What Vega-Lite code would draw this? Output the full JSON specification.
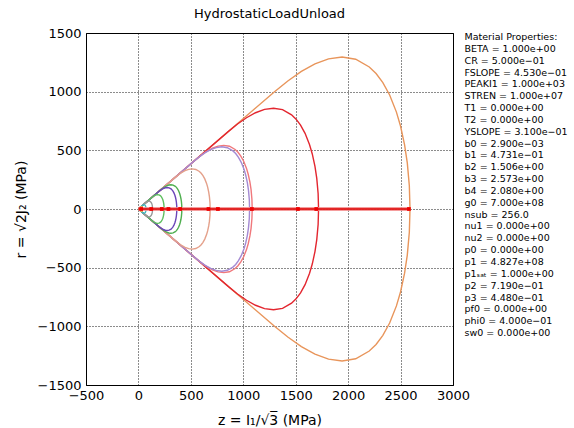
{
  "$schema": "https://vega.github.io/schema/vega-lite/v6.json",
  "width": 367,
  "height": 352,
  "autosize": {"type": "none"},
  "padding": {"left": 86, "top": 33, "right": 121, "bottom": 43},
  "background": "white",
  "config": {
    "view": {"stroke": "black", "strokeWidth": 1},
    "font": "DejaVu Sans",
    "axis": {
      "labelFont": "DejaVu Sans", "labelFontSize": 13, "labelColor": "black",
      "titleFont": "DejaVu Sans", "titleFontSize": 14, "titleFontWeight": "normal", "titleColor": "black",
      "grid": true, "gridColor": "black", "gridDash": [1, 2], "gridOpacity": 0.9, "gridWidth": 1,
      "ticks": false, "domain": false, "labelOverlap": false, "labelFlush": false, "format": "d"
    }
  },
  "title": {"text": "HydrostaticLoadUnload", "font": "DejaVu Sans", "fontSize": 13, "fontWeight": "normal", "color": "black", "offset": 6, "frame": "group"},
  "datasets": {
    "curves": [
      {"c":"A","z":0,"r":0,"rn":0},{"c":"A","z":1295,"r":997.2,"rn":-997.2},{"c":"A","z":1424.5,"r":1091.4,"rn":-1091.4},{"c":"A","z":1554,"r":1172.5,"rn":-1172.5},{"c":"A","z":1683.5,"r":1236.6,"rn":-1236.6},{"c":"A","z":1813,"r":1279.5,"rn":-1279.5},{"c":"A","z":1942.5,"r":1295.3,"rn":-1295.3},{"c":"A","z":2072,"r":1276.4,"rn":-1276.4},{"c":"A","z":2201.5,"r":1210.6,"rn":-1210.6},{"c":"A","z":2266.3,"r":1154.2,"rn":-1154.2},{"c":"A","z":2331,"r":1076.9,"rn":-1076.9},{"c":"A","z":2395.8,"r":971.8,"rn":-971.8},{"c":"A","z":2460.5,"r":825.8,"rn":-825.8},{"c":"A","z":2499.4,"r":707.3,"rn":-707.3},{"c":"A","z":2538.2,"r":547.3,"rn":-547.3},{"c":"A","z":2564.1,"r":392.9,"rn":-392.9},{"c":"A","z":2583.5,"r":198.7,"rn":-198.7},{"c":"A","z":2590,"r":0,"rn":0},
      {"c":"B","z":0,"r":0,"rn":0},{"c":"B","z":859,"r":661.4,"rn":-661.4},{"c":"B","z":944.9,"r":724,"rn":-724},{"c":"B","z":1030.8,"r":777.7,"rn":-777.7},{"c":"B","z":1116.7,"r":820.3,"rn":-820.3},{"c":"B","z":1202.6,"r":848.7,"rn":-848.7},{"c":"B","z":1288.5,"r":859.2,"rn":-859.2},{"c":"B","z":1374.4,"r":846.6,"rn":-846.6},{"c":"B","z":1460.3,"r":803,"rn":-803},{"c":"B","z":1503.3,"r":765.6,"rn":-765.6},{"c":"B","z":1546.2,"r":714.3,"rn":-714.3},{"c":"B","z":1589.2,"r":644.6,"rn":-644.6},{"c":"B","z":1632.1,"r":547.8,"rn":-547.8},{"c":"B","z":1657.9,"r":469.2,"rn":-469.2},{"c":"B","z":1683.6,"r":363,"rn":-363},{"c":"B","z":1700.8,"r":260.6,"rn":-260.6},{"c":"B","z":1713.7,"r":131.8,"rn":-131.8},{"c":"B","z":1718,"r":0,"rn":0},
      {"c":"C","z":0,"r":0,"rn":0},{"c":"C","z":542.5,"r":417.7,"rn":-417.7},{"c":"C","z":596.8,"r":457.2,"rn":-457.2},{"c":"C","z":651,"r":491.2,"rn":-491.2},{"c":"C","z":705.3,"r":518,"rn":-518},{"c":"C","z":759.5,"r":536,"rn":-536},{"c":"C","z":813.8,"r":542.6,"rn":-542.6},{"c":"C","z":868,"r":534.7,"rn":-534.7},{"c":"C","z":922.3,"r":507.1,"rn":-507.1},{"c":"C","z":949.4,"r":483.5,"rn":-483.5},{"c":"C","z":976.5,"r":451.1,"rn":-451.1},{"c":"C","z":1003.6,"r":407.1,"rn":-407.1},{"c":"C","z":1030.8,"r":346,"rn":-346},{"c":"C","z":1047,"r":296.3,"rn":-296.3},{"c":"C","z":1063.3,"r":229.3,"rn":-229.3},{"c":"C","z":1074.2,"r":164.6,"rn":-164.6},{"c":"C","z":1082.3,"r":83.2,"rn":-83.2},{"c":"C","z":1085,"r":0,"rn":0},
      {"c":"D","z":0,"r":0,"rn":0},{"c":"D","z":530,"r":408.1,"rn":-408.1},{"c":"D","z":583,"r":446.7,"rn":-446.7},{"c":"D","z":636,"r":479.9,"rn":-479.9},{"c":"D","z":689,"r":506.1,"rn":-506.1},{"c":"D","z":742,"r":523.6,"rn":-523.6},{"c":"D","z":795,"r":530.1,"rn":-530.1},{"c":"D","z":848,"r":522.4,"rn":-522.4},{"c":"D","z":901,"r":495.4,"rn":-495.4},{"c":"D","z":927.5,"r":472.4,"rn":-472.4},{"c":"D","z":954,"r":440.7,"rn":-440.7},{"c":"D","z":980.5,"r":397.7,"rn":-397.7},{"c":"D","z":1007,"r":338,"rn":-338},{"c":"D","z":1022.9,"r":289.5,"rn":-289.5},{"c":"D","z":1038.8,"r":224,"rn":-224},{"c":"D","z":1049.4,"r":160.8,"rn":-160.8},{"c":"D","z":1057.4,"r":81.3,"rn":-81.3},{"c":"D","z":1060,"r":0,"rn":0},
      {"c":"E","z":0,"r":0,"rn":0},{"c":"E","z":342,"r":263.3,"rn":-263.3},{"c":"E","z":376.2,"r":288.2,"rn":-288.2},{"c":"E","z":410.4,"r":309.6,"rn":-309.6},{"c":"E","z":444.6,"r":326.6,"rn":-326.6},{"c":"E","z":478.8,"r":337.9,"rn":-337.9},{"c":"E","z":513,"r":342.1,"rn":-342.1},{"c":"E","z":547.2,"r":337.1,"rn":-337.1},{"c":"E","z":581.4,"r":319.7,"rn":-319.7},{"c":"E","z":598.5,"r":304.8,"rn":-304.8},{"c":"E","z":615.6,"r":284.4,"rn":-284.4},{"c":"E","z":632.7,"r":256.6,"rn":-256.6},{"c":"E","z":649.8,"r":218.1,"rn":-218.1},{"c":"E","z":660.1,"r":186.8,"rn":-186.8},{"c":"E","z":670.3,"r":144.5,"rn":-144.5},{"c":"E","z":677.2,"r":103.8,"rn":-103.8},{"c":"E","z":682.3,"r":52.5,"rn":-52.5},{"c":"E","z":684,"r":0,"rn":0},
      {"c":"F","z":0,"r":0,"rn":0},{"c":"F","z":207,"r":159.4,"rn":-159.4},{"c":"F","z":227.7,"r":174.5,"rn":-174.5},{"c":"F","z":248.4,"r":187.4,"rn":-187.4},{"c":"F","z":269.1,"r":197.7,"rn":-197.7},{"c":"F","z":289.8,"r":204.5,"rn":-204.5},{"c":"F","z":310.5,"r":207,"rn":-207},{"c":"F","z":331.2,"r":204,"rn":-204},{"c":"F","z":351.9,"r":193.5,"rn":-193.5},{"c":"F","z":362.3,"r":184.5,"rn":-184.5},{"c":"F","z":372.6,"r":172.1,"rn":-172.1},{"c":"F","z":383,"r":155.3,"rn":-155.3},{"c":"F","z":393.3,"r":132,"rn":-132},{"c":"F","z":399.5,"r":113.1,"rn":-113.1},{"c":"F","z":405.7,"r":87.5,"rn":-87.5},{"c":"F","z":409.9,"r":62.8,"rn":-62.8},{"c":"F","z":413,"r":31.8,"rn":-31.8},{"c":"F","z":414,"r":0,"rn":0},
      {"c":"G","z":0,"r":0,"rn":0},{"c":"G","z":183,"r":140.9,"rn":-140.9},{"c":"G","z":201.3,"r":154.2,"rn":-154.2},{"c":"G","z":219.6,"r":165.7,"rn":-165.7},{"c":"G","z":237.9,"r":174.7,"rn":-174.7},{"c":"G","z":256.2,"r":180.8,"rn":-180.8},{"c":"G","z":274.5,"r":183,"rn":-183},{"c":"G","z":292.8,"r":180.4,"rn":-180.4},{"c":"G","z":311.1,"r":171.1,"rn":-171.1},{"c":"G","z":320.3,"r":163.1,"rn":-163.1},{"c":"G","z":329.4,"r":152.2,"rn":-152.2},{"c":"G","z":338.6,"r":137.3,"rn":-137.3},{"c":"G","z":347.7,"r":116.7,"rn":-116.7},{"c":"G","z":353.2,"r":100,"rn":-100},{"c":"G","z":358.7,"r":77.3,"rn":-77.3},{"c":"G","z":362.3,"r":55.5,"rn":-55.5},{"c":"G","z":365.1,"r":28.1,"rn":-28.1},{"c":"G","z":366,"r":0,"rn":0},
      {"c":"H","z":0,"r":0,"rn":0},{"c":"H","z":122.5,"r":94.3,"rn":-94.3},{"c":"H","z":134.8,"r":103.2,"rn":-103.2},{"c":"H","z":147,"r":110.9,"rn":-110.9},{"c":"H","z":159.3,"r":117,"rn":-117},{"c":"H","z":171.5,"r":121,"rn":-121},{"c":"H","z":183.8,"r":122.5,"rn":-122.5},{"c":"H","z":196,"r":120.7,"rn":-120.7},{"c":"H","z":208.3,"r":114.5,"rn":-114.5},{"c":"H","z":214.4,"r":109.2,"rn":-109.2},{"c":"H","z":220.5,"r":101.9,"rn":-101.9},{"c":"H","z":226.6,"r":91.9,"rn":-91.9},{"c":"H","z":232.8,"r":78.1,"rn":-78.1},{"c":"H","z":236.4,"r":66.9,"rn":-66.9},{"c":"H","z":240.1,"r":51.8,"rn":-51.8},{"c":"H","z":242.6,"r":37.2,"rn":-37.2},{"c":"H","z":244.4,"r":18.8,"rn":-18.8},{"c":"H","z":245,"r":0,"rn":0},
      {"c":"I","z":0,"r":0,"rn":0},{"c":"I","z":67.5,"r":52,"rn":-52},{"c":"I","z":81,"r":61.1,"rn":-61.1},{"c":"I","z":94.5,"r":66.7,"rn":-66.7},{"c":"I","z":101.3,"r":67.5,"rn":-67.5},{"c":"I","z":108,"r":66.5,"rn":-66.5},{"c":"I","z":121.5,"r":56.1,"rn":-56.1},{"c":"I","z":128.3,"r":43,"rn":-43},{"c":"I","z":132.3,"r":28.5,"rn":-28.5},{"c":"I","z":135,"r":0,"rn":0},
      {"c":"J","z":0,"r":0,"rn":0},{"c":"J","z":36,"r":27.7,"rn":-27.7},{"c":"J","z":43.2,"r":32.6,"rn":-32.6},{"c":"J","z":50.4,"r":35.6,"rn":-35.6},{"c":"J","z":54,"r":36,"rn":-36},{"c":"J","z":57.6,"r":35.5,"rn":-35.5},{"c":"J","z":64.8,"r":29.9,"rn":-29.9},{"c":"J","z":68.4,"r":23,"rn":-23},{"c":"J","z":70.6,"r":15.2,"rn":-15.2},{"c":"J","z":72,"r":0,"rn":0},
      {"c":"K","z":0,"r":0,"rn":0},{"c":"K","z":20,"r":15.4,"rn":-15.4},{"c":"K","z":24,"r":18.1,"rn":-18.1},{"c":"K","z":28,"r":19.8,"rn":-19.8},{"c":"K","z":30,"r":20,"rn":-20},{"c":"K","z":32,"r":19.7,"rn":-19.7},{"c":"K","z":36,"r":16.6,"rn":-16.6},{"c":"K","z":38,"r":12.8,"rn":-12.8},{"c":"K","z":39.2,"r":8.5,"rn":-8.5},{"c":"K","z":40,"r":0,"rn":0}
    ],
    "path": [
      {"z":0,"r":0},{"z":26,"r":0},{"z":122,"r":0},{"z":223,"r":0},{"z":286,"r":0},{"z":398,"r":0},{"z":668,"r":0},{"z":758,"r":0},{"z":1082,"r":0},{"z":1521,"r":0},{"z":1696,"r":0},{"z":2580,"r":0}
    ],
    "props": [
      {"k":0,"t":"Material Properties:"},
      {"k":1,"t":"BETA = 1.000e+00"},
      {"k":2,"t":"CR = 5.000e\u221201"},
      {"k":3,"t":"FSLOPE = 4.530e\u221201"},
      {"k":4,"t":"PEAKI1 = 1.000e+03"},
      {"k":5,"t":"STREN = 1.000e+07"},
      {"k":6,"t":"T1 = 0.000e+00"},
      {"k":7,"t":"T2 = 0.000e+00"},
      {"k":8,"t":"YSLOPE = 3.100e\u221201"},
      {"k":9,"t":"b0 = 2.900e\u221203"},
      {"k":10,"t":"b1 = 4.731e\u221201"},
      {"k":11,"t":"b2 = 1.506e+00"},
      {"k":12,"t":"b3 = 2.573e+00"},
      {"k":13,"t":"b4 = 2.080e+00"},
      {"k":14,"t":"g0 = 7.000e+08"},
      {"k":15,"t":"nsub = 256.0"},
      {"k":16,"t":"nu1 = 0.000e+00"},
      {"k":17,"t":"nu2 = 0.000e+00"},
      {"k":18,"t":"p0 = 0.000e+00"},
      {"k":19,"t":"p1 = 4.827e+08"},
      {"k":20,"t":"p1\u209b\u2090\u209c = 1.000e+00"},
      {"k":21,"t":"p2 = 7.190e\u221201"},
      {"k":22,"t":"p3 = 4.480e\u221201"},
      {"k":23,"t":"pf0 = 0.000e+00"},
      {"k":24,"t":"phi0 = 4.000e\u221201"},
      {"k":25,"t":"sw0 = 0.000e+00"}
    ]
  },
  "layer": [
    {
      "layer": [
        {
          "data": {"name": "curves"},
          "mark": {"type": "line", "strokeWidth": 1.4, "clip": true},
          "encoding": {
            "x": {"field": "z", "type": "quantitative", "scale": {"domain": [-500, 3000], "nice": false},
                  "axis": {"values": [-500, 0, 500, 1000, 1500, 2000, 2500, 3000], "title": "z = I\u2081/\u221a3\u0305 (MPa)", "labelPadding": 4, "titlePadding": 11}},
            "y": {"field": "r", "type": "quantitative", "scale": {"domain": [-1500, 1500], "nice": false},
                  "axis": {"values": [-1500, -1000, -500, 0, 500, 1000, 1500], "title": "r = \u221a2J\u2082 (MPa)", "labelPadding": 5, "titlePadding": 9}},
            "color": {"field": "c", "type": "nominal", "legend": null,
                      "scale": {"domain": ["A","B","C","D","E","F","G","H","I","J","K"],
                                "range": ["#e8955b","#e3262f","#f0787c","#a48ad3","#e4a08a","#4fae4f","#6b46b8","#5fbf5f","#9a9a9a","#3fb8c0","#f2b04a"]}}
          }
        },
        {
          "data": {"name": "curves"},
          "mark": {"type": "line", "strokeWidth": 1.4, "clip": true},
          "encoding": {
            "x": {"field": "z", "type": "quantitative"},
            "y": {"field": "rn", "type": "quantitative"},
            "color": {"field": "c", "type": "nominal", "legend": null}
          }
        },
        {
          "data": {"name": "path"},
          "mark": {"type": "line", "strokeWidth": 4, "color": "#f38c8c", "opacity": 0.85},
          "encoding": {
            "x": {"field": "z", "type": "quantitative"},
            "y": {"field": "r", "type": "quantitative"}
          }
        },
        {
          "data": {"name": "path"},
          "mark": {"type": "line", "strokeWidth": 1.5, "color": "#dd0000"},
          "encoding": {
            "x": {"field": "z", "type": "quantitative"},
            "y": {"field": "r", "type": "quantitative"}
          }
        },
        {
          "data": {"name": "path"},
          "transform": [{"filter": "datum.z > 0"}],
          "mark": {"type": "point", "shape": "square", "filled": true, "size": 14, "color": "#ee0000", "opacity": 1},
          "encoding": {
            "x": {"field": "z", "type": "quantitative"},
            "y": {"field": "r", "type": "quantitative"}
          }
        }
      ]
    },
    {
      "data": {"name": "props"},
      "mark": {"type": "text", "align": "left", "baseline": "middle", "fontSize": 9.5, "font": "DejaVu Sans", "color": "black"},
      "encoding": {
        "x": {"datum": 3110, "type": "quantitative", "scale": {"domain": [-500, 3000], "nice": false}},
        "y": {"field": "k", "type": "quantitative", "scale": {"domain": [-0.34, 29.39], "nice": false, "zero": false, "reverse": true}, "axis": null},
        "text": {"field": "t", "type": "nominal"}
      }
    }
  ],
  "resolve": {"scale": {"y": "independent"}, "axis": {"y": "independent"}}
}
